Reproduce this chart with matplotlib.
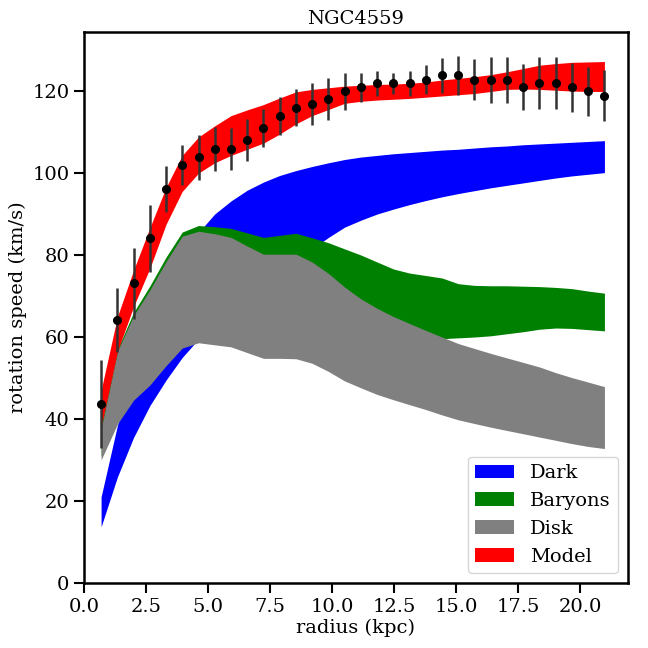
import matplotlib
matplotlib.use("Agg")
import matplotlib.pyplot as plt
import numpy as np

plt.rcParams['font.family'] = ['DejaVu Serif']

# radii (kpc)
radius = [0.69, 1.35, 2.00, 2.66, 3.31, 3.96, 4.62, 5.27, 5.93, 6.58, 7.24, 7.89,
          8.55, 9.20, 9.86, 10.51, 11.17, 11.82, 12.48, 13.13, 13.79, 14.44, 15.10,
          15.75, 16.41, 17.06, 17.72, 18.37, 19.03, 19.68, 20.34, 20.99]

# observed rotation speed and errors (km/s)
v_obs = [43.7, 64.1, 73.1, 84.1, 96.0, 102.0, 103.8, 105.9, 105.9, 108.0, 110.9, 113.9,
         115.9, 116.9, 118.0, 119.9, 120.9, 121.9, 121.9, 121.9, 122.8, 123.8, 123.8,
         122.8, 122.8, 122.8, 120.9, 121.9, 121.9, 120.9, 119.9, 118.9]
v_err = [10.7, 7.8, 8.6, 8.2, 5.6, 4.8, 5.5, 5.3, 5.2, 5.1, 4.6, 4.6,
         4.5, 5.1, 5.1, 4.5, 3.6, 3.1, 2.6, 3.1, 3.6, 4.3, 4.7,
         5.1, 5.6, 5.6, 5.6, 6.3, 6.3, 5.9, 6.0, 6.2]

# Dark halo band
dark_lo = [13.7, 25.9, 35.5, 43.3, 49.5, 55.0, 59.5, 63.5, 67.0, 70.5, 73.5, 76.5,
           79.0, 81.5, 84.3, 86.8, 88.5, 90.0, 91.2, 92.3, 93.3, 94.2, 95.0,
           95.7, 96.4, 97.0, 97.6, 98.2, 98.8, 99.3, 99.7, 100.1]
dark_hi = [21.0, 38.5, 52.0, 63.0, 72.0, 79.5, 85.5, 90.0, 93.2, 95.8, 97.8, 99.4,
           100.6, 101.6, 102.5, 103.3, 103.9, 104.3, 104.7, 105.0, 105.3, 105.6, 105.8,
           106.1, 106.4, 106.6, 106.9, 107.1, 107.3, 107.5, 107.7, 107.9]

# Baryons band
bar_lo = [31.0, 40.0, 46.0, 50.0, 55.0, 59.5, 61.0, 61.0, 61.0, 60.5, 60.0, 60.0,
          60.0, 59.7, 59.5, 59.3, 59.2, 59.2, 59.2, 59.3, 59.4, 59.6, 59.8,
          60.0, 60.3, 60.8, 61.3, 61.9, 62.2, 62.1, 61.8, 61.5]
bar_hi = [38.5, 57.0, 66.0, 72.5, 79.5, 85.6, 87.2, 86.9, 86.5, 85.4, 84.3, 84.8,
          85.3, 84.2, 83.0, 81.5, 80.0, 78.3, 76.6, 75.6, 75.0, 74.4, 73.0,
          72.6, 72.5, 72.5, 72.4, 72.3, 72.1, 71.8, 71.2, 70.7]

# Disk band
disk_lo = [30.0, 38.8, 44.6, 48.3, 53.0, 57.3, 58.6, 58.1, 57.6, 56.2, 54.8, 54.8,
           54.7, 53.6, 51.6, 49.3, 47.6, 46.0, 44.7, 43.5, 42.3, 41.0, 39.8,
           38.9, 38.0, 37.2, 36.4, 35.6, 34.8, 34.0, 33.3, 32.8]
disk_hi = [37.5, 56.5, 65.2, 71.5, 78.4, 84.6, 85.8, 85.2, 84.3, 82.2, 80.2, 80.2,
           80.2, 78.3, 75.5, 72.2, 69.3, 67.0, 65.0, 63.3, 61.6, 60.0, 58.4,
           57.2, 56.0, 54.9, 53.8, 52.7, 51.3, 50.1, 49.0, 47.9]

# Model band
model_lo = [38.0, 56.5, 67.4, 76.8, 87.5, 95.5, 100.0, 102.5, 104.3, 105.8, 107.3, 109.5,
            112.0, 114.0, 115.5, 117.0, 117.5, 117.8, 118.0, 118.2, 118.5, 118.8, 119.1,
            119.4, 119.9, 120.4, 120.5, 120.4, 120.2, 120.0, 119.9, 119.9]
model_hi = [47.0, 65.0, 76.3, 86.7, 96.5, 104.3, 108.8, 111.5, 114.0, 115.4, 116.7, 118.3,
            119.8, 120.4, 120.8, 121.2, 121.4, 121.6, 121.7, 121.9, 122.2, 122.7, 123.1,
            123.5, 124.0, 124.7, 125.5, 126.3, 126.7, 127.0, 127.1, 127.2]

fig = plt.figure(figsize=(6.48, 6.48), dpi=100)
ax = fig.add_axes([0.1296, 0.1003, 0.8395, 0.8503])

ax.fill_between(radius, dark_lo, dark_hi, color='blue', lw=0, label='Dark')
ax.fill_between(radius, bar_lo, bar_hi, color='green', lw=0, label='Baryons')
ax.fill_between(radius, disk_lo, disk_hi, color='gray', lw=0, label='Disk')
ax.fill_between(radius, model_lo, model_hi, color='red', lw=0, label='Model')
ax.errorbar(radius, v_obs, yerr=v_err, fmt='o', color='k', ecolor='#333333',
            elinewidth=1.8, markersize=5.5, zorder=5)

ax.set_xlim(0, 21.94)
ax.set_ylim(0, 134.4)
ax.set_xlabel('radius (kpc)', fontsize=14, labelpad=2)
ax.set_ylabel('rotation speed (km/s)', fontsize=14)
ax.set_title('NGC4559', fontsize=14)
ax.tick_params(axis='both', labelsize=14, length=7, width=1.5)
for s in ax.spines.values():
    s.set_linewidth(1.8)
ax.legend(loc='lower right', fontsize=14)

fig.savefig('out.png', dpi=100)
